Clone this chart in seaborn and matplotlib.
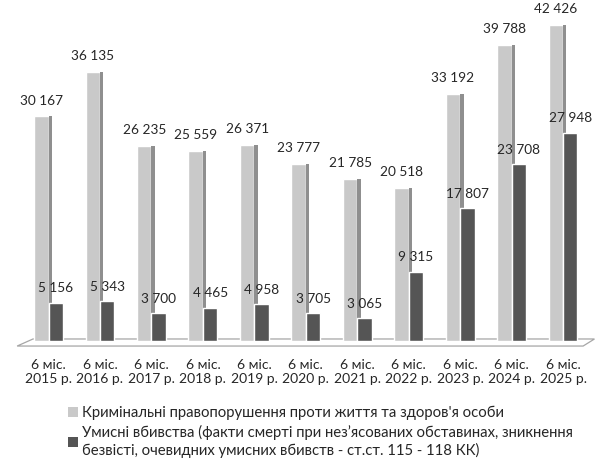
import pandas as pd
import matplotlib.pyplot as plt
import seaborn as sns
from matplotlib.patches import Patch, Rectangle, Polygon

# дані
periods = ["6 міс.\n2015 р.", "6 міс.\n2016 р.", "6 міс.\n2017 р.", "6 міс.\n2018 р.",
           "6 міс.\n2019 р.", "6 міс.\n2020 р.", "6 міс.\n2021 р.", "6 міс.\n2022 р.",
           "6 міс.\n2023 р.", "6 міс.\n2024 р.", "6 міс.\n2025 р."]
crimes = [30167, 36135, 26235, 25559, 26371, 23777, 21785, 20518, 33192, 39788, 42426]
murders = [5156, 5343, 3700, 4465, 4958, 3705, 3065, 9315, 17807, 23708, 27948]

crimes_label = "Кримінальні правопорушення проти життя та здоров'я особи"
murders_label = ("Умисні вбивства (факти смерті при нез’ясованих обставинах, зникнення\n"
                 "безвісті, очевидних умисних вбивств - ст.ст. 115 - 118 КК)")

light = "#c9c9c9"
light_side = "#8f8f8f"
dark = "#555555"
text_color = "#262626"

df = pd.DataFrame({
    "period": periods * 2,
    "value": crimes + murders,
    "series": [crimes_label] * len(crimes) + [murders_label] * len(murders),
})

sns.set_style("white")
plt.rcParams['font.family'] = ['Lato', 'DejaVu Sans']

fig = plt.figure(figsize=(6.11, 4.58), dpi=100)
ax = fig.add_axes([22.8 / 611, 117 / 458, 566 / 611, 336 / 458])

sns.barplot(data=df, x="period", y="value", hue="series", palette=[light, dark],
            width=0.56, ax=ax, legend=False, saturation=1)

# "3D" бічна грань світлих стовпчиків
for p in ax.containers[0]:
    x1 = p.get_x() + p.get_width()
    ax.add_patch(Rectangle((x1, 0), 0.065, p.get_height(), facecolor=light_side,
                           zorder=2.5, lw=0))
for p in ax.containers[1]:
    p.set_zorder(3)

# підлога
floor = Polygon([(-0.01, -0.015), (0.99, -0.015), (1.01, 0.006), (0.018, 0.006)],
                closed=True, transform=ax.transAxes, facecolor="white",
                edgecolor="#a6a6a6", lw=0.9, zorder=0.5, clip_on=False)
ax.add_patch(floor)

fmt = lambda v: f"{int(v):,}".replace(",", " ")
ax.bar_label(ax.containers[0], labels=[fmt(v) for v in crimes], padding=7,
             fontsize=9.8, color=text_color)
ax.bar_label(ax.containers[1], labels=[fmt(v) for v in murders], padding=6,
             fontsize=9.8, color=text_color)

ax.set_xlim(-0.5, 10.5)
ax.set_ylim(0, 45100)
ax.set_xlabel("")
ax.set_ylabel("")
ax.set_yticks([])
ax.tick_params(axis="x", length=0, pad=13, labelsize=10, colors=text_color)
for s in ax.spines.values():
    s.set_visible(False)

handles = [Patch(facecolor=light, edgecolor="none"), Patch(facecolor=dark, edgecolor="none")]
fig.legend(handles, [crimes_label, murders_label], loc="lower left",
           bbox_to_anchor=(62 / 611, -0.012), frameon=False, handlelength=0.65,
           handleheight=0.65, handletextpad=0.3, fontsize=10.7, labelspacing=0.35,
           borderaxespad=0.0, labelcolor=text_color)

fig.savefig("out.png", dpi=100)
